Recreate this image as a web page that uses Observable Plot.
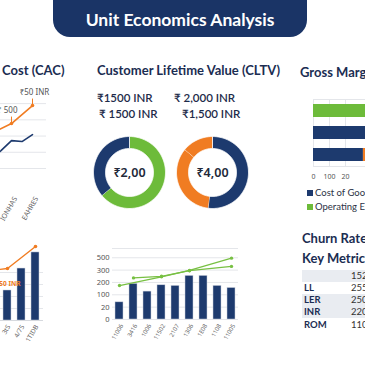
<!DOCTYPE html>
<html><head><meta charset="utf-8">
<script src="https://cdn.jsdelivr.net/npm/d3@7"></script>
<script src="https://cdn.jsdelivr.net/npm/@observablehq/plot@0.6"></script>
<style>
html,body{margin:0;padding:0;background:#fff;}
#root{position:relative;width:365px;height:365px;overflow:hidden;font-family:Lato,"Noto Sans",sans-serif;background:#fff;}
.abs{position:absolute;white-space:nowrap;}
.title{font-size:13px;font-weight:700;color:#1b2d52;line-height:16px;}
.val{font-size:11.5px;font-weight:600;color:#1d2b4a;line-height:14px;}
svg{overflow:visible;background:transparent !important;}
</style></head>
<body><div id="root"></div>
<script>
// ---------- data ----------
const NAVY = "#1d3a6e", GREEN = "#6dbb3a", ORANGE = "#f07c22", GRID = "#e4e6ea";
const headerTitle = "Unit Economics Analysis";
const sectionTitles = ["Cost (CAC)", "Customer Lifetime Value (CLTV)", "Gross Margin", "Churn Rate", "Key Metrics"];

// CAC line chart
const cacIdx = [0, 1, 2, 3, 4];
const cacLabels = ["JUNH85", "JULH85", "IONHAS", "AUGH85", "EAHRES"];
const cacNavy = [0.55, 1.1, 1.72, 1.66, 2.09];
const cacOrangeIdx = [0, 2, 4];
const cacOrange = [2.15, 2.77, 3.88];
const cacNotes = ["", "₹ 500", "₹50 INR"];

// CLTV texts & donuts
const cltvTextsRow1 = ["₹1500 INR", "₹ 2,000 INR"];
const cltvTextsRow2 = ["₹ 1500 INR", "₹1,500 INR"];
const donut1Labels = ["₹2,00"];
const donut1Values = [64, 36];
const donut1Colors = [GREEN, NAVY];
const donut2Labels = ["₹4,00"];
const donut2Values = [52, 34, 14];
const donut2Colors = [NAVY, ORANGE, ORANGE];

// Gross margin stacked bars
const gmRows = ["Operating", "Costs", "Margin"];
const gmSeries = ["Operating Expenses", "Cost of Goods Sold", "Cost of Goods Sold", "Gross Margin"];
const gmRowOf = ["Operating", "Costs", "Margin", "Margin"];
const gmValues = [700, 700, 312, 300];
const gmColors = [GREEN, NAVY, NAVY, ORANGE];
const gmTicks = [0, 100, 200];
const gmTickLabels = ["0", "100", "20"];
const gmLegend = ["Cost of Goods Sold", "Operating Expenses"];
const gmLegendColors = [NAVY, GREEN];

// bottom-left bars + line
const blCats = ["1tS", "2tS", "3tS", "4/75", "1TIDB"];
const blBars = [3.4, 2.1, 2.5, 4.33, 5.67];
const blLineIdx = [1, 2, 4];
const blLine = [4.2, 4.33, 6.17];
const blNote = "₹50 INR";

// bottom-middle combo
const cbCats = ["11006", "3416", "1006", "11502", "2107", "1306", "1E08", "1108", "11005"];
const cbBars = [1.39, 2.88, 2.26, 2.77, 2.72, 3.53, 3.53, 2.72, 2.55];
const cbLine1Idx = [0, 3, 5, 8];
const cbLine1 = [2.75, 3.46, 3.97, 4.97];
const cbLine2Idx = [1, 3, 5, 8];
const cbLine2 = [3.37, 3.5, 3.95, 4.3];
const cbYTicks = [0, 1, 2, 3, 4, 5];
const cbYLabels = ["0", "20", "100", "200", "300", "500"];

// key metrics table
const kmLabels = ["", "LL", "LER", "INR", "ROM"];
const kmValues = ["152", "255", "250", "220", "110"];
const kmShaded = [true, false, true, true, false];

// ---------- helpers ----------
const root = document.getElementById("root");
function place(el, left, top) { el.style.position = "absolute"; el.style.left = left + "px"; el.style.top = top + "px"; root.appendChild(el); return el; }
function txt(text, cls, left, top, extra) { const d = document.createElement("div"); d.className = "abs " + cls; d.textContent = text; if (extra) Object.assign(d.style, extra); return place(d, left, top); }

// header
const hdr = document.createElement("div");
Object.assign(hdr.style, {width: "254px", height: "57px", background: "#1a3466", borderRadius: "17px"});
place(hdr, 53, -20);
txt(headerTitle, "", 53, 10, {width: "254px", textAlign: "center", color: "#fff", fontWeight: "700", fontSize: "17.5px", lineHeight: "20px"});

// titles
txt(sectionTitles[0], "title", 2, 62);
txt(sectionTitles[1], "title", 97, 62);
txt(sectionTitles[2], "title", 300, 64);
txt(sectionTitles[3], "title", 302, 230);
txt(sectionTitles[4], "title", 302, 250);

// CLTV texts
txt(cltvTextsRow1[0], "val", 97, 91);
txt(cltvTextsRow1[1], "val", 174, 91);
txt(cltvTextsRow2[0], "val", 99, 106.5);
txt(cltvTextsRow2[1], "val", 182, 106.5);

// ---------- chart 1: CAC lines ----------
const navyData = cacIdx.map((i, k) => ({i, v: cacNavy[k]}));
const orangeData = cacOrangeIdx.map((i, k) => ({i, v: cacOrange[k], note: cacNotes[k]}));
const c1 = Plot.plot({
  width: 90, height: 145, marginLeft: 24, marginRight: 0, marginTop: 15, marginBottom: 57,
  x: {domain: [-0.952, 5.333], axis: null},
  y: {domain: [0, 4.5], axis: null},
  marks: [
    Plot.ruleY([0, 1, 2, 3, 4], {stroke: GRID}),
    Plot.line(navyData, {x: "i", y: "v", stroke: NAVY, strokeWidth: 1.6}),
    Plot.line(orangeData, {x: "i", y: "v", stroke: ORANGE, strokeWidth: 1.6}),
    Plot.ruleX(orangeData.slice(1), {x: "i", y1: "v", y2: d => d.v + 0.4, stroke: ORANGE, strokeWidth: 1}),
    Plot.dot(orangeData.slice(1), {x: "i", y: "v", r: 1.8, fill: ORANGE}),
    Plot.text(orangeData.slice(1, 2), {x: "i", y: d => d.v + 0.8, text: "note", textAnchor: "end", dx: 6, fontSize: 8, fill: "#555"}),
    Plot.text(orangeData.slice(2), {x: "i", y: d => d.v + 0.8, text: "note", textAnchor: "middle", dx: 2, fontSize: 8, fill: "#555"}),
    Plot.text([2, 4], {x: d => d, frameAnchor: "bottom", text: d => cacLabels[d], rotate: -60, textAnchor: "end", dx: 6, dy: 30, fontSize: 7, fill: "#666"})
  ]
});
place(c1, -44, 80);

// ---------- donuts ----------
function donutPoints(values, colors, inner) {
  const total = d3.sum(values); const pts = []; let acc = 0;
  values.forEach((v, s) => {
    const a0 = acc / total * 2 * Math.PI, a1 = (acc + v) / total * 2 * Math.PI; acc += v;
    const n = Math.max(2, Math.ceil((a1 - a0) / 0.03));
    for (let k = 0; k <= n; k++) { const a = a0 + (a1 - a0) * k / n; pts.push({s, c: colors[s], x: Math.sin(a), y: Math.cos(a)}); }
    for (let k = n; k >= 0; k--) { const a = a0 + (a1 - a0) * k / n; pts.push({s, c: colors[s], x: inner * Math.sin(a), y: inner * Math.cos(a)}); }
  });
  return pts;
}
function donut(values, colors, label) {
  return Plot.plot({
    width: 72, height: 72, margin: 0,
    x: {domain: [-1, 1], axis: null}, y: {domain: [-1, 1], axis: null},
    color: {type: "identity"},
    marks: [
      Plot.line(donutPoints(values, colors, 0.667), {x: "x", y: "y", z: "s", fill: "c", stroke: "#fff", strokeWidth: 0.8}),
      Plot.text(label, {frameAnchor: "middle", text: d => d, fontSize: 12.5, fontWeight: 600, fill: "#23293a"})
    ]
  });
}
place(donut(donut1Values, donut1Colors, donut1Labels), 93, 136);
place(donut(donut2Values, donut2Colors, donut2Labels), 176, 136);

// ---------- chart 3: gross margin ----------
const gmData = gmValues.map((v, k) => ({row: gmRowOf[k], series: gmSeries[k], v, c: gmColors[k]}));
const c3 = Plot.plot({
  width: 173, height: 84, marginLeft: 13, marginRight: 0, marginTop: 1, marginBottom: 16,
  x: {domain: [0, 1000], axis: null},
  y: {domain: gmRows, axis: null, paddingInner: 0.43, paddingOuter: 0.215},
  color: {type: "identity"},
  marks: [
    Plot.ruleX(gmTicks, {stroke: GRID}),
    Plot.frame({stroke: GRID}),
    Plot.barX(gmData, Plot.stackX({y: "row", x: "v", fill: "c", order: null})),
    Plot.axisX({ticks: gmTicks, tickFormat: d => gmTickLabels[gmTicks.indexOf(d)], tickSize: 0, tickPadding: 8, fontSize: 7, color: "#555", label: null})
  ]
});
place(c3, 300, 98);
gmLegend.forEach((l, k) => {
  const d = document.createElement("div"); d.className = "abs";
  Object.assign(d.style, {fontSize: "9.5px", color: "#2b3245", lineHeight: "12px", display: "flex", alignItems: "center"});
  const sq = document.createElement("span"); Object.assign(sq.style, {display: "inline-block", width: "6px", height: "6px", background: gmLegendColors[k], marginRight: "2px"});
  d.appendChild(sq); d.appendChild(document.createTextNode(l));
  place(d, 307, 187 + k * 14);
});

// ---------- chart 4: bottom-left bars ----------
const blData = blCats.map((c, k) => ({c, v: blBars[k]}));
const blLineData = blLineIdx.map((i, k) => ({c: blCats[i], v: blLine[k]}));
const c4 = Plot.plot({
  width: 93, height: 113, marginLeft: 22, marginRight: 0, marginTop: 2, marginBottom: 30,
  x: {domain: blCats, axis: null, paddingInner: 0.4, paddingOuter: 0.2},
  y: {domain: [0, 6.75], axis: null},
  marks: [
    Plot.ruleY([1, 2, 3, 4], {stroke: GRID}),
    Plot.barY(blData, {x: "c", y: "v", fill: NAVY, stroke: "#c9d0dc", strokeWidth: 0.5}),
    Plot.ruleY([0], {stroke: "#d6d9de"}),
    Plot.line(blLineData, {x: "c", y: "v", stroke: ORANGE, strokeWidth: 1.4}),
    Plot.dot(blLineData, {x: "c", y: "v", r: 1.8, fill: ORANGE}),
    Plot.text([blNote], {x: () => blCats[2], y: () => 3.08, text: d => d, textAnchor: "end", dx: 13, fontSize: 6.5, fontWeight: 700, fill: ORANGE}),
    Plot.text(blCats, {x: d => d, frameAnchor: "bottom", text: d => d, rotate: -60, textAnchor: "end", dx: 3, dy: 6, fontSize: 6.5, fill: "#666"})
  ]
});
place(c4, -50, 237);

// ---------- chart 5: combo ----------
const cbData = cbCats.map((c, k) => ({c, v: cbBars[k]}));
const cbL1 = cbLine1Idx.map((i, k) => ({c: cbCats[i], v: cbLine1[k]}));
const cbL2 = cbLine2Idx.map((i, k) => ({c: cbCats[i], v: cbLine2[k]}));
const c5 = Plot.plot({
  width: 153, height: 119, marginLeft: 27, marginRight: 0, marginTop: 8, marginBottom: 40,
  x: {domain: cbCats, axis: null, paddingInner: 0.43, paddingOuter: 0.215},
  y: {domain: [0, 5.75], axis: null},
  marks: [
    Plot.ruleY([...cbYTicks, 5.75], {stroke: GRID}),
    Plot.barY(cbData, {x: "c", y: "v", fill: NAVY, stroke: "#c9d0dc", strokeWidth: 0.5}),
    Plot.line(cbL1, {x: "c", y: "v", stroke: "#78c043", strokeWidth: 1.3}),
    Plot.line(cbL2, {x: "c", y: "v", stroke: "#78c043", strokeWidth: 1.3}),
    Plot.dot([...cbL1, ...cbL2], {x: "c", y: "v", r: 1.7, fill: "#78c043"}),
    Plot.text(cbYTicks, {y: d => d, frameAnchor: "left", textAnchor: "end", dx: -3, text: (d, i) => cbYLabels[i], fontSize: 7.5, fill: "#555"}),
    Plot.text(cbCats, {x: d => d, frameAnchor: "bottom", text: d => d, rotate: -60, textAnchor: "end", dx: 4, dy: 6, fontSize: 6, fill: "#666"})
  ]
});
place(c5, 85, 240);

// ---------- key metrics table ----------
kmLabels.forEach((l, k) => {
  const row = document.createElement("div"); row.className = "abs";
  Object.assign(row.style, {width: "70px", height: "12px", background: kmShaded[k] ? "#e9ecf1" : "transparent", fontSize: "9.5px", lineHeight: "12px"});
  const a = document.createElement("span"); a.textContent = l; Object.assign(a.style, {position: "absolute", left: "2px", fontWeight: "700", color: "#1b2d52"});
  const b = document.createElement("span"); b.textContent = kmValues[k]; Object.assign(b.style, {position: "absolute", left: "49px", color: "#333"});
  row.appendChild(a); row.appendChild(b);
  place(row, 302, 269.5 + k * 12.3);
});
</script></body></html>
